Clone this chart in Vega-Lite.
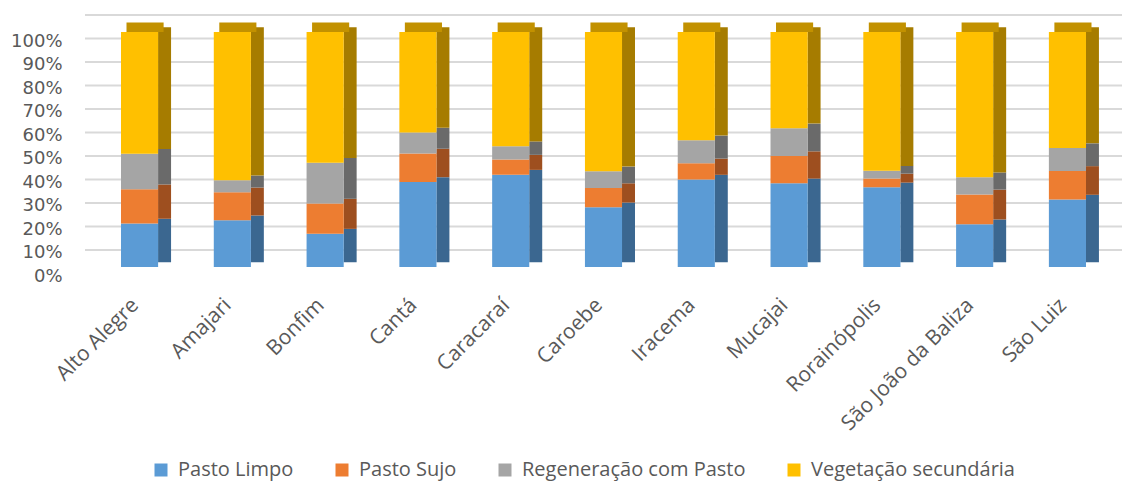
{
  "$schema": "https://vega.github.io/schema/vega-lite/v6.json",
  "autosize": {"type": "none"},
  "width": 1037,
  "height": 235,
  "padding": {"left": 85, "top": 32, "right": 3, "bottom": 215},
  "background": "white",
  "config": {"view": {"stroke": null}, "font": "Open Sans"},
  "resolve": {"scale": {"color": "independent"}, "legend": {"color": "independent"}},
  "datasets": {
    "grid": [{"g": 0}, {"g": 0.1}, {"g": 0.2}, {"g": 0.3}, {"g": 0.4}, {"g": 0.5}, {"g": 0.6}, {"g": 0.7}, {"g": 0.8}, {"g": 0.9}, {"g": 1}],
    "main": [
      {"m": "Alto Alegre", "c": "Pasto Limpo", "k": 1, "v": 18.5},
      {"m": "Alto Alegre", "c": "Pasto Sujo", "k": 2, "v": 14.6},
      {"m": "Alto Alegre", "c": "Regeneração com Pasto", "k": 3, "v": 15.1},
      {"m": "Alto Alegre", "c": "Vegetação secundária", "k": 4, "v": 51.8},
      {"m": "Amajari", "c": "Pasto Limpo", "k": 1, "v": 19.9},
      {"m": "Amajari", "c": "Pasto Sujo", "k": 2, "v": 11.9},
      {"m": "Amajari", "c": "Regeneração com Pasto", "k": 3, "v": 5.1},
      {"m": "Amajari", "c": "Vegetação secundária", "k": 4, "v": 63.1},
      {"m": "Bonfim", "c": "Pasto Limpo", "k": 1, "v": 14.2},
      {"m": "Bonfim", "c": "Pasto Sujo", "k": 2, "v": 12.8},
      {"m": "Bonfim", "c": "Regeneração com Pasto", "k": 3, "v": 17.4},
      {"m": "Bonfim", "c": "Vegetação secundária", "k": 4, "v": 55.6},
      {"m": "Cantá", "c": "Pasto Limpo", "k": 1, "v": 36.2},
      {"m": "Cantá", "c": "Pasto Sujo", "k": 2, "v": 12.1},
      {"m": "Cantá", "c": "Regeneração com Pasto", "k": 3, "v": 8.9},
      {"m": "Cantá", "c": "Vegetação secundária", "k": 4, "v": 42.8},
      {"m": "Caracaraí", "c": "Pasto Limpo", "k": 1, "v": 39.3},
      {"m": "Caracaraí", "c": "Pasto Sujo", "k": 2, "v": 6.4},
      {"m": "Caracaraí", "c": "Regeneração com Pasto", "k": 3, "v": 5.7},
      {"m": "Caracaraí", "c": "Vegetação secundária", "k": 4, "v": 48.6},
      {"m": "Caroebe", "c": "Pasto Limpo", "k": 1, "v": 25.4},
      {"m": "Caroebe", "c": "Pasto Sujo", "k": 2, "v": 8.2},
      {"m": "Caroebe", "c": "Regeneração com Pasto", "k": 3, "v": 7.1},
      {"m": "Caroebe", "c": "Vegetação secundária", "k": 4, "v": 59.3},
      {"m": "Iracema", "c": "Pasto Limpo", "k": 1, "v": 37.2},
      {"m": "Iracema", "c": "Pasto Sujo", "k": 2, "v": 6.9},
      {"m": "Iracema", "c": "Regeneração com Pasto", "k": 3, "v": 9.8},
      {"m": "Iracema", "c": "Vegetação secundária", "k": 4, "v": 46.1},
      {"m": "Mucajai", "c": "Pasto Limpo", "k": 1, "v": 35.6},
      {"m": "Mucajai", "c": "Pasto Sujo", "k": 2, "v": 11.6},
      {"m": "Mucajai", "c": "Regeneração com Pasto", "k": 3, "v": 11.8},
      {"m": "Mucajai", "c": "Vegetação secundária", "k": 4, "v": 41.0},
      {"m": "Rorainópolis", "c": "Pasto Limpo", "k": 1, "v": 33.9},
      {"m": "Rorainópolis", "c": "Pasto Sujo", "k": 2, "v": 3.8},
      {"m": "Rorainópolis", "c": "Regeneração com Pasto", "k": 3, "v": 3.3},
      {"m": "Rorainópolis", "c": "Vegetação secundária", "k": 4, "v": 59.0},
      {"m": "São João da Baliza", "c": "Pasto Limpo", "k": 1, "v": 18.2},
      {"m": "São João da Baliza", "c": "Pasto Sujo", "k": 2, "v": 12.7},
      {"m": "São João da Baliza", "c": "Regeneração com Pasto", "k": 3, "v": 7.3},
      {"m": "São João da Baliza", "c": "Vegetação secundária", "k": 4, "v": 61.8},
      {"m": "São Luiz", "c": "Pasto Limpo", "k": 1, "v": 28.7},
      {"m": "São Luiz", "c": "Pasto Sujo", "k": 2, "v": 12.2},
      {"m": "São Luiz", "c": "Regeneração com Pasto", "k": 3, "v": 9.7},
      {"m": "São Luiz", "c": "Vegetação secundária", "k": 4, "v": 49.4}
    ]
  },
  "layer": [
    {
      "data": {"name": "grid"},
      "mark": {"type": "rule", "color": "#d9d9d9", "strokeWidth": 2, "yOffset": -17},
      "encoding": {
        "y": {
          "field": "g", "type": "quantitative",
          "scale": {"domain": [0, 1]},
          "axis": {
            "values": [0, 0.1, 0.2, 0.3, 0.4, 0.5, 0.6, 0.7, 0.8, 0.9, 1], "tickCount": 11,
            "format": ".0%", "title": null, "grid": false, "domain": false, "ticks": false, "labelOverlap": false,
            "labelFont": "DejaVu Sans", "labelFontSize": 18, "labelColor": "#595959", "labelPadding": 23, "labelOffset": 9
          }
        }
      }
    },
    {
      "data": {"name": "main"},
      "mark": {"type": "bar", "width": 13, "xOffset": 25, "yOffset": -4.75, "y2Offset": -4.75},
      "encoding": {
        "x": {"field": "m", "type": "nominal", "sort": null, "title": null,
              "scale": {"paddingInner": 0.6, "paddingOuter": 0.388},
              "axis": {"title": null, "labelAngle": -45, "labelFontSize": 21, "labelColor": "#595959",
                       "domain": false, "ticks": false, "labelPadding": 27, "labelOffset": -12}},
        "y": {"field": "v", "type": "quantitative", "stack": "normalize", "title": null},
        "color": {"field": "c", "type": "nominal", "legend": null,
                 "scale": {"domain": ["Pasto Limpo", "Pasto Sujo", "Regeneração com Pasto", "Vegetação secundária"],
                           "range": ["#3b6790", "#9e4f1f", "#6a6a6a", "#a67c00"]}},
        "order": {"field": "k", "type": "quantitative"}
      }
    },
    {
      "data": {"name": "main"},
      "transform": [{"filter": "datum.k == 4"}],
      "mark": {"type": "bar", "color": "#c29100", "xOffset": 5.5, "yOffset": -9.5, "y2Offset": 0},
      "encoding": {
        "x": {"field": "m", "type": "nominal", "sort": null, "title": null},
        "y": {"datum": 1, "title": null},
        "y2": {"datum": 1}
      }
    },
    {
      "data": {"name": "main"},
      "mark": {"type": "bar"},
      "encoding": {
        "x": {"field": "m", "type": "nominal", "sort": null, "title": null},
        "y": {"field": "v", "type": "quantitative", "stack": "normalize", "title": null},
        "color": {"field": "c", "type": "nominal",
                  "scale": {"domain": ["Pasto Limpo", "Pasto Sujo", "Regeneração com Pasto", "Vegetação secundária"],
                            "range": ["#5b9bd5", "#ed7d31", "#a5a5a5", "#ffc000"]},
                  "legend": {"title": null, "orient": "none", "direction": "horizontal",
                             "legendX": 66, "legendY": 428, "symbolType": "square", "symbolSize": 169,
                             "symbolStrokeWidth": 0, "labelFontSize": 20, "labelColor": "#595959", "labelLimit": 400,
                             "labelOffset": 7, "columnPadding": 38}},
        "order": {"field": "k", "type": "quantitative"}
      }
    }
  ]
}
